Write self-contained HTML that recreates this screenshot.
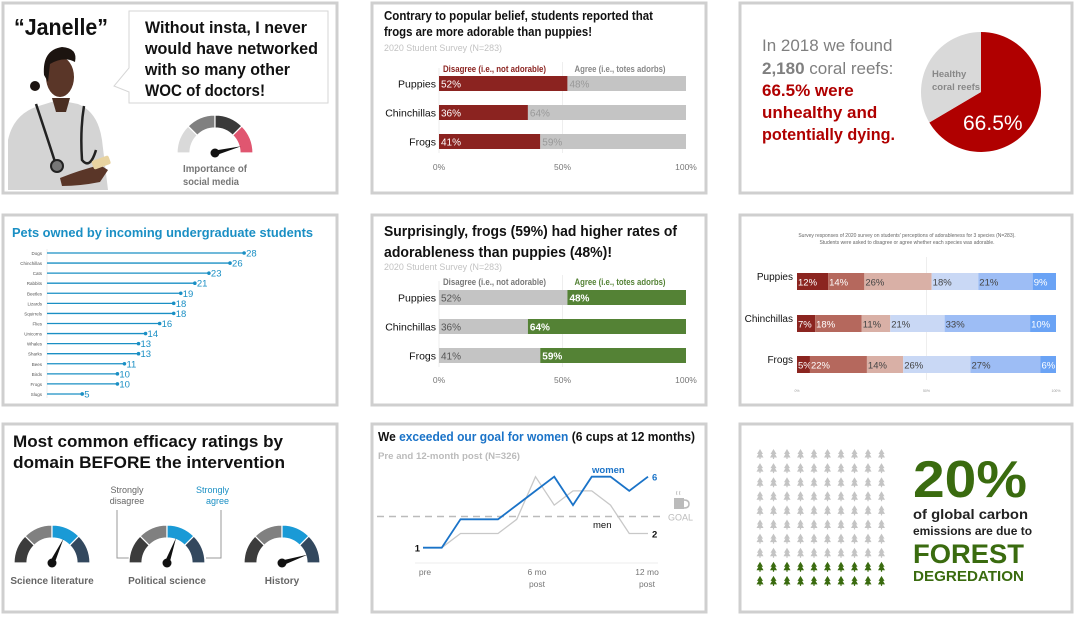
<!DOCTYPE html>
<html><head><meta charset="utf-8"><style>
html,body{margin:0;padding:0;background:#fff;}
svg{display:block;font-family:"Liberation Sans",sans-serif;}
</style></head><body>
<svg id="s" width="1077" height="618" viewBox="0 0 1077 618" xmlns="http://www.w3.org/2000/svg">
<g fill="none" stroke="#cfcfcf" stroke-width="3">
<rect x="3" y="3" width="334" height="190"/>
<rect x="372" y="3" width="334" height="190"/>
<rect x="740" y="3" width="332" height="190"/>
<rect x="3" y="215" width="334" height="190"/>
<rect x="372" y="215" width="334" height="190"/>
<rect x="740" y="215" width="332" height="190"/>
<rect x="3" y="424" width="334" height="188"/>
<rect x="372" y="424" width="334" height="188"/>
<rect x="740" y="424" width="332" height="188"/>
</g>

<!-- Panel 1 -->
<g>
<text x="14" y="35" font-size="23" font-weight="bold" fill="#111" textLength="94" lengthAdjust="spacingAndGlyphs">“Janelle”</text>
<g>
<path d="M8,190 L8,140 Q14,112 42,105 L58,100 L78,104 Q98,112 102,140 L108,190 Z" fill="#d4d4d4"/>
<path d="M52,98 L56,112 L66,112 L70,98 Z" fill="#4a2e22"/>
<ellipse cx="60" cy="77" rx="14" ry="20" fill="#5a3628"/>
<path d="M44,75 Q42,50 62,47 Q78,48 75,62 Q64,56 50,64 L48,82 Z" fill="#1c1410"/>
<circle cx="35" cy="86" r="5" fill="#1c1410"/>
<path d="M36,104 Q48,140 56,165 M84,106 Q80,130 82,160 Q90,170 96,150" fill="none" stroke="#222" stroke-width="2.5"/>
<circle cx="57" cy="166" r="6" fill="#777" stroke="#222" stroke-width="2"/>
<path d="M60,178 Q80,170 100,165 L108,170 L100,182 Q80,186 62,186 Z" fill="#5a3628"/>
<rect x="92" y="158" width="18" height="9" rx="2" fill="#e8d3a0" transform="rotate(-20 101 162)"/>
</g>
<g>
<path d="M129,11 L328,11 L328,103 L129,103 L129,92 L114,86 L129,68 Z" fill="#fff" stroke="#d6d6d6" stroke-width="1"/>
<g font-size="17" font-weight="bold" fill="#111" lengthAdjust="spacingAndGlyphs">
<text x="145" y="33" textLength="162" lengthAdjust="spacingAndGlyphs">Without insta, I never</text>
<text x="145" y="54" textLength="173" lengthAdjust="spacingAndGlyphs">would have networked</text>
<text x="145" y="75" textLength="145" lengthAdjust="spacingAndGlyphs">with so many other</text>
<text x="145" y="96" textLength="120" lengthAdjust="spacingAndGlyphs">WOC of doctors!</text>
</g></g>
<g id="g1"></g>
<text x="183" y="172" font-size="10.5" font-weight="bold" fill="#777" textLength="64" lengthAdjust="spacingAndGlyphs">Importance of</text>
<text x="183" y="185" font-size="10.5" font-weight="bold" fill="#777" textLength="56" lengthAdjust="spacingAndGlyphs">social media</text>
</g>

<!-- Panel 2 -->
<g>
<text x="384" y="20" font-size="12.5" font-weight="bold" fill="#111" textLength="269" lengthAdjust="spacingAndGlyphs">Contrary to popular belief, students reported that</text>
<text x="384" y="36" font-size="12.5" font-weight="bold" fill="#111" textLength="208" lengthAdjust="spacingAndGlyphs">frogs are more adorable than puppies!</text>
<text x="384" y="51" font-size="9.5" fill="#c2c2c2" textLength="118" lengthAdjust="spacingAndGlyphs">2020 Student Survey (N=283)</text>
<g id="b1"></g>
</g>

<!-- Panel 3 -->
<g font-size="17">
<text x="762" y="51" fill="#7f7f7f">In 2018 we found</text>
<text x="762" y="74" fill="#7f7f7f"><tspan font-weight="bold">2,180</tspan> coral reefs:</text>
<text x="762" y="96" fill="#b00000" font-weight="bold">66.5% were</text>
<text x="762" y="118" fill="#b00000" font-weight="bold">unhealthy and</text>
<text x="762" y="140" fill="#b00000" font-weight="bold" textLength="133" lengthAdjust="spacingAndGlyphs">potentially dying.</text>
<g id="pie"></g>
</g>

<!-- Panel 4 -->
<g>
<text x="12" y="237" font-size="12.5" font-weight="bold" fill="#1a8fc4" textLength="301" lengthAdjust="spacingAndGlyphs">Pets owned by incoming undergraduate students</text>
<g id="lol"></g>
</g>

<!-- Panel 5 -->
<g>
<text x="384" y="236" font-size="15" font-weight="bold" fill="#111" textLength="293" lengthAdjust="spacingAndGlyphs">Surprisingly, frogs (59%) had higher rates of</text>
<text x="384" y="257" font-size="15" font-weight="bold" fill="#111" textLength="228" lengthAdjust="spacingAndGlyphs">adorableness than puppies (48%)!</text>
<text x="384" y="270" font-size="9.5" fill="#c2c2c2" textLength="118" lengthAdjust="spacingAndGlyphs">2020 Student Survey (N=283)</text>
<g id="b2"></g>
</g>

<!-- Panel 6 -->
<g>
<text x="907" y="237" font-size="5" fill="#666" text-anchor="middle">Survey responses of 2020 survey on students' perceptions of adorableness for 3 species (N=283).</text>
<text x="907" y="244" font-size="5" fill="#666" text-anchor="middle">Students were asked to disagree or agree whether each species was adorable.</text>
<g id="st"></g>
</g>

<!-- Panel 7 -->
<g>
<text x="13" y="447" font-size="16.5" font-weight="bold" fill="#111" textLength="270" lengthAdjust="spacingAndGlyphs">Most common efficacy ratings by</text>
<text x="13" y="468" font-size="16.5" font-weight="bold" fill="#111" textLength="272" lengthAdjust="spacingAndGlyphs">domain BEFORE the intervention</text>
<g fill="#666" font-size="9" text-anchor="middle">
<text x="127" y="493">Strongly</text><text x="127" y="504">disagree</text></g>
<g fill="#1a8fc4" font-size="9" text-anchor="end">
<text x="229" y="493">Strongly</text><text x="229" y="504">agree</text></g>
<path d="M117,510 L117,558 L133,558 M221,510 L221,558 L206,558" fill="none" stroke="#999" stroke-width="1"/>
<g id="g3"></g>
</g>

<!-- Panel 8 -->
<g>
<text x="378" y="441" font-size="12.5" font-weight="bold" fill="#111" textLength="317" lengthAdjust="spacingAndGlyphs">We <tspan fill="#1a73c8">exceeded our goal for women</tspan> (6 cups at 12 months)</text>
<text x="378" y="459" font-size="9.5" font-weight="bold" fill="#bbb" textLength="142" lengthAdjust="spacingAndGlyphs">Pre and 12-month post (N=326)</text>
<g id="ln"></g>
</g>

<!-- Panel 9 -->
<g>
<g id="trees"></g>
<g fill="#3a6b0f" font-weight="bold">
<text x="913" y="497" font-size="52" textLength="114" lengthAdjust="spacingAndGlyphs">20%</text>
<text x="913" y="563" font-size="27" textLength="111" lengthAdjust="spacingAndGlyphs">FOREST</text>
<text x="913" y="581" font-size="15" textLength="111" lengthAdjust="spacingAndGlyphs">DEGREDATION</text></g>
<text x="913" y="519" font-size="14" font-weight="bold" fill="#222" textLength="115" lengthAdjust="spacingAndGlyphs">of global carbon</text>
<text x="913" y="535" font-size="12" font-weight="bold" fill="#222" textLength="119" lengthAdjust="spacingAndGlyphs">emissions are due to</text>
</g>
</svg>
<script>
// ---- data ----
const barCats = ["Puppies","Chinchillas","Frogs"];
const disagreeVals = [52,36,41];
const agreeVals = [48,64,59];
const petCats = ["Dogs","Chinchillas","Cats","Rabbits","Beetles","Lizards","Squirrels","Flies","Unicorns","Whales","Sharks","Bees","Birds","Frogs","Slugs"];
const petVals = [28,26,23,21,19,18,18,16,14,13,13,11,10,10,5];
const stackCats = ["Puppies","Chinchillas","Frogs"];
const stackVals = [[12,14,26,18,21,9],[7,18,11,21,33,10],[5,22,14,26,27,6]];
const lineLabels = ["pre","6 mo","12 mo"];
const womenVals = [1,1,3,3,3,4,5,6,4,6,6,5,6];
const menVals = [1,1,2,2,2,3,6,4,5,5,4,2,2];
const goalVal = 3.2;
const pieVals = [66.5,33.5];
const gaugeNames = ["Science literature","Political science","History"];
const gaugeVals = [0.64,0.61,0.9];
const socialVal = 0.92;
const treeTotal = 100;
const treeGreen = 20;

const NS="http://www.w3.org/2000/svg";
function mk(tag,attrs,parent,txt){const e=document.createElementNS(NS,tag);for(const k in attrs)e.setAttribute(k,attrs[k]);if(txt!==undefined)e.textContent=txt;parent.appendChild(e);return e;}
const $=id=>document.getElementById(id);

function arcPath(cx,cy,r0,r1,a0,a1){
 const p=(r,a)=>[cx+r*Math.cos(a),cy-r*Math.sin(a)];
 const [x0,y0]=p(r1,a0),[x1,y1]=p(r1,a1),[x2,y2]=p(r0,a1),[x3,y3]=p(r0,a0);
 return `M${x0},${y0} A${r1},${r1} 0 0 1 ${x1},${y1} L${x2},${y2} A${r0},${r0} 0 0 0 ${x3},${y3} Z`;
}
function gauge(parent,cx,cy,r1,r0,cols,val,name){
 const g=mk('g',{},parent);
 
 
 cols.forEach((c,i)=>{const a0=Math.PI*(1-i/4),a1=Math.PI*(1-(i+1)/4);
  const s=mk('path',{d:arcPath(cx,cy,r0,r1,a0,a1),fill:c,stroke:'#fff','stroke-width':1.2},g);
  
  });
 const a=Math.PI*(1-val), L=r0+2;
 const nx=cx+L*Math.cos(a),ny=cy-L*Math.sin(a),px=Math.sin(a)*2.5,py=Math.cos(a)*2.5;
 const n=mk('path',{d:`M${cx+px},${cy+py} L${nx},${ny} L${cx-px},${cy-py} Z`,fill:'#111'},g);
 
 
 mk('circle',{cx,cy,r:4.5,fill:'#111'},g);
}
gauge($('g1'),215,153,38,25,['#d9d9d9','#808080','#3a3a3a','#e05670'],socialVal,'importance-gauge');
const gx=[52,167,282];
gaugeNames.forEach((nm,i)=>{gauge($('g3'),gx[i],563,38,25,['#3c3c3c','#808080','#1a9ad6','#33485e'],gaugeVals[i],'gauge-'+i);
 const t=mk('text',{x:gx[i],y:584,'font-size':10,'font-weight':'bold',fill:'#666','text-anchor':'middle'},$('g3'),nm);
 
 });

function twoBar(parent,x0,x1,ys,h,dc,ac,hdrY,hdrDC,hdrAC,tickY,bold){
 const sx=v=>x0+(x1-x0)*v/100;
 mk('line',{x1:sx(50),x2:sx(50),y1:hdrY-10,y2:ys[2]+h+4,stroke:'#eee'},parent);
 mk('line',{x1:sx(0),x2:sx(0),y1:hdrY-4,y2:ys[2]+h+4,stroke:'#eee'},parent);
 let t=mk('text',{x:x0+4,y:hdrY,'font-size':9,'font-weight':'bold',fill:hdrDC,textLength:103,lengthAdjust:'spacingAndGlyphs'},parent,"Disagree (i.e., not adorable)");
 
 
 t=mk('text',{x:sx(50)+12,y:hdrY,'font-size':9,'font-weight':'bold',fill:hdrAC,textLength:91,lengthAdjust:'spacingAndGlyphs'},parent,"Agree (i.e., totes adorbs)");
 
 
 barCats.forEach((c,i)=>{const y=ys[i];
  mk('text',{x:x0-3,y:y+h/2+4,'font-size':10.5,'text-anchor':'end',fill:'#111'},parent,c);
  let r=mk('rect',{x:sx(0),y,width:sx(disagreeVals[i])-sx(0),height:h,fill:dc[0]},parent);
  
  
  r=mk('rect',{x:sx(disagreeVals[i]),y,width:sx(disagreeVals[i]+agreeVals[i])-sx(disagreeVals[i]),height:h,fill:ac[0]},parent);
  
  
  mk('text',{x:sx(0)+2,y:y+h/2+4,'font-size':10,fill:dc[1],'font-weight':bold[0]},parent,disagreeVals[i]+'%');
  mk('text',{x:sx(disagreeVals[i])+2,y:y+h/2+4,'font-size':10,fill:ac[1],'font-weight':bold[1]},parent,agreeVals[i]+'%');
 });
 [0,50,100].forEach(v=>mk('text',{x:sx(v),y:tickY,'font-size':8.5,fill:'#777','text-anchor':'middle'},parent,v+'%'));
}
twoBar($('b1'),439,686,[76,105,134],15,['#8b2320','#fff'],['#c4c4c4','#999'],72,'#8b2320','#888',170,['normal','normal']);
twoBar($('b2'),439,686,[290,319,348],15,['#c4c4c4','#555'],['#548235','#fff'],285,'#777','#548235',383,['normal','bold']);

(function(){const cx=981,cy=92,r=60,p=$('pie');let a=-Math.PI/2;const cols=['#b00000','#d9d9d9'];const tot=pieVals.reduce((a,b)=>a+b);
 pieVals.forEach((v,i)=>{const a2=a+2*Math.PI*v/tot;const large=(a2-a)>Math.PI?1:0;
  const s=mk('path',{d:`M${cx},${cy} L${cx+r*Math.cos(a)},${cy+r*Math.sin(a)} A${r},${r} 0 ${large} 1 ${cx+r*Math.cos(a2)},${cy+r*Math.sin(a2)} Z`,fill:cols[i]},p);
  
  a=a2;});
 mk('text',{x:932,y:77,'font-size':9.5,'font-weight':'bold',fill:'#888'},p,'Healthy');
 mk('text',{x:932,y:90,'font-size':9.5,'font-weight':'bold',fill:'#888'},p,'coral reefs');
 mk('text',{x:963,y:130,'font-size':21,fill:'#fff'},p,pieVals[0]+'%');
})();

(function(){const p=$('lol');const x0=47,sx=v=>x0+v*7.04,y0=253,dy=10.07;
 mk('line',{x1:x0,x2:x0,y1:y0-4,y2:y0+14*dy+4,stroke:'#eee'},p);
 petCats.forEach((c,i)=>{const y=y0+i*dy;
  mk('text',{x:x0-5,y:y+2,'font-size':4.5,'text-anchor':'end',fill:'#555'},p,c);
  const l=mk('line',{x1:x0,x2:sx(petVals[i]),y1:y,y2:y,stroke:'#1a8fc4','stroke-width':1.3},p);
  
  
  const d=mk('circle',{cx:sx(petVals[i]),cy:y,r:1.8,fill:'#1a8fc4'},p);
  
  
  mk('text',{x:sx(petVals[i])+2,y:y+3.5,'font-size':9.5,fill:'#1a8fc4'},p,petVals[i]);
 });})();

(function(){const p=$('st');const x0=797,x1=1056,sx=v=>x0+(x1-x0)*v/100;const ys=[273,315,356],h=17;
 const cols=['#8b2520','#b5685d','#d9b0a6','#c9d8f5','#9dbdf5','#6aa3f5'];
 const tcol=['#fff','#fff','#444','#444','#444','#fff'];
 mk('line',{x1:sx(50),x2:sx(50),y1:257,y2:380,stroke:'#eee'},p);
 stackCats.forEach((c,i)=>{let acc=0;
  mk('text',{x:x0-4,y:ys[i]+7,'font-size':10,'text-anchor':'end',fill:'#111'},p,c);
  stackVals[i].forEach((v,j)=>{const r=mk('rect',{x:sx(acc),y:ys[i],width:sx(acc+v)-sx(acc),height:h,fill:cols[j]},p);
   
   
   mk('text',{x:sx(acc)+1,y:ys[i]+12.5,'font-size':9.5,fill:tcol[j]},p,v+'%');acc+=v;});
 });
 [0,50,100].forEach(v=>mk('text',{x:sx(v),y:392,'font-size':3.5,fill:'#999','text-anchor':'middle'},p,v+'%'));
})();

(function(){const p=$('ln');const n=womenVals.length;const sx=i=>423+i*(648-423)/(n-1);const sy=v=>547.7-(v-1)*14.2;
 mk('line',{x1:415,x2:658,y1:563,y2:563,stroke:'#eee'},p);
 const gl=mk('line',{x1:377,x2:662,y1:sy(goalVal),y2:sy(goalVal),stroke:'#bbb','stroke-width':1.5,'stroke-dasharray':'7,5'},p);
 
 
 mk('text',{x:668,y:sy(goalVal)+4,'font-size':9,fill:'#bbb'},p,'GOAL');
 mk('rect',{x:674,y:498,width:10,height:11,fill:'#bbb'},p);
 mk('path',{d:'M684,500 q5,0 5,4 q0,4 -5,4',fill:'none',stroke:'#bbb','stroke-width':1.5},p);
 mk('path',{d:'M677,495 q-1,-2 0,-4 M680,495 q-1,-2 0,-4',fill:'none',stroke:'#bbb','stroke-width':0.8},p);
 const men=mk('polyline',{points:menVals.map((v,i)=>sx(i)+','+sy(v)).join(' '),fill:'none',stroke:'#c8c8c8','stroke-width':1.3},p);
 
 
 const w=mk('polyline',{points:womenVals.map((v,i)=>sx(i)+','+sy(v)).join(' '),fill:'none',stroke:'#1a73c8','stroke-width':1.8},p);
 
 
 mk('text',{x:sx(0)-3,y:sy(womenVals[0])+4,'font-size':9.5,'font-weight':'bold','text-anchor':'end',fill:'#111'},p,womenVals[0]);
 mk('text',{x:sx(n-1)+4,y:sy(womenVals[n-1])+4,'font-size':9.5,'font-weight':'bold',fill:'#1a73c8'},p,womenVals[n-1]);
 mk('text',{x:sx(n-1)+4,y:sy(menVals[n-1])+4,'font-size':9.5,'font-weight':'bold',fill:'#111'},p,menVals[n-1]);
 mk('text',{x:592,y:473,'font-size':9.5,'font-weight':'bold',fill:'#1a73c8'},p,'women');
 mk('text',{x:593,y:528,'font-size':9.5,fill:'#111'},p,'men');
 const tx=[425,537,647];
 lineLabels.forEach((l,i)=>{mk('text',{x:tx[i],y:575,'font-size':8.5,fill:'#777','text-anchor':'middle'},p,l);
  if(i>0)mk('text',{x:tx[i],y:587,'font-size':8.5,fill:'#777','text-anchor':'middle'},p,'post');});
})();

(function(){const p=$('trees');for(let k=0;k<treeTotal;k++){const col=k%10,row=Math.floor(k/10);
 const x=760+col*13.5,y=454+row*14.1;const green=k>=treeTotal-treeGreen;
 const t=mk('path',{d:`M${x},${y-5} L${x+3},${y} L${x+1.5},${y} L${x+3.5},${y+3.5} L${x+0.6},${y+3.5} L${x+0.6},${y+5} L${x-0.6},${y+5} L${x-0.6},${y+3.5} L${x-3.5},${y+3.5} L${x-1.5},${y} L${x-3},${y} Z`,fill:green?'#3a6b0f':'#c4c4c4'},p);
 
 }})();
</script>
</body></html>
